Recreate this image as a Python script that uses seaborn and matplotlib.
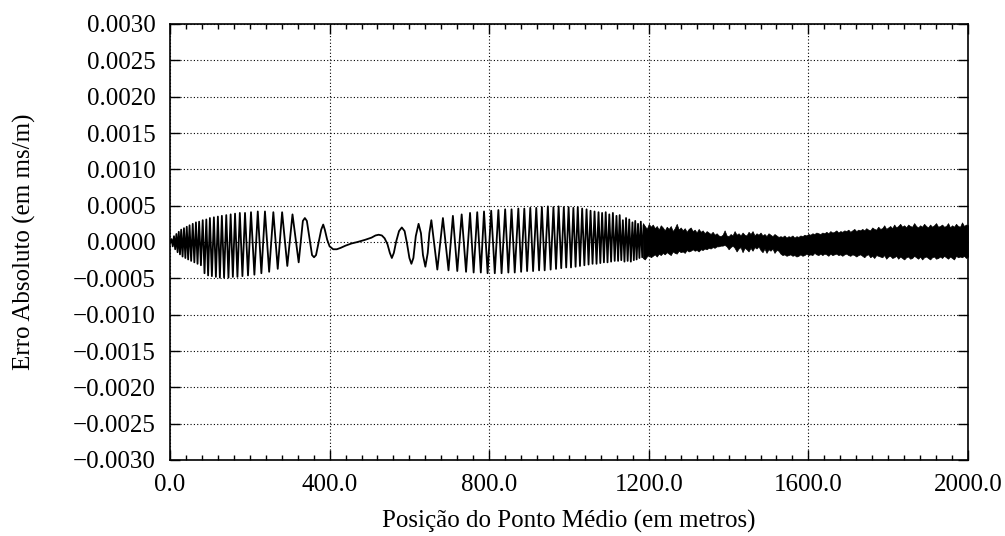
import matplotlib
matplotlib.use("Agg")
import matplotlib.pyplot as plt
import seaborn as sns
from matplotlib.ticker import MultipleLocator, FixedLocator, FuncFormatter

# Absolute error of the picked velocity along the section (ms/m)
# Oscillating part: successive extrema (and a few shoulder points) of the trace
pos_m = [
    0, 4, 7, 10, 13, 16, 19, 22, 25, 28, 31.5, 35, 38.5, 42, 45.5, 49, 53, 57,
    61, 65, 69, 73, 77.5, 82, 86.5, 91, 95.5, 100, 105, 110, 115, 120, 125,
    130, 135.5, 141, 146.5, 152, 157.5, 163, 169, 175, 181.5, 188, 195.5, 203,
    211.5, 220, 229, 238, 248.5, 259, 270, 281, 294, 307, 322.5, 333, 338,
    343, 356, 361, 366, 379, 384, 388, 394, 400, 409, 418, 428, 440, 455, 470,
    489, 505, 515, 523, 531, 538, 545, 551, 556, 561, 567, 574, 581, 588, 594,
    600, 605, 610, 616, 623, 629, 634, 640, 646, 650, 655, 670, 684, 698, 709,
    720, 731, 742, 752, 761, 770, 779, 787, 796, 805, 814, 823, 831, 840, 848,
    856, 864, 873, 880, 888, 895, 903, 910, 918, 925, 932, 939, 947, 954, 961,
    967.5, 974, 980.5, 987, 993, 999, 1005, 1011, 1016.5, 1022, 1027.5, 1033,
    1038.5, 1044, 1049, 1054, 1059, 1064, 1069, 1074, 1078.5, 1083, 1087.5,
    1092, 1096.5, 1101, 1105.5, 1110, 1114.5, 1119, 1123, 1127, 1131, 1135,
    1139, 1143, 1147, 1151, 1155, 1159, 1162.5, 1166, 1169.5, 1173, 1176.5,
    1180, 1183.5, 1187,
]
erro = [
    0.0, 4e-5, -6e-5, 8e-5, -10e-5, 11e-5, -14e-5, 14e-5, -17e-5, 17e-5,
    -20e-5, 19e-5, -22e-5, 21e-5, -24e-5, 23e-5, -26e-5, 25e-5, -28e-5, 27e-5,
    -30e-5, 28e-5, -32e-5, 30e-5, -43e-5, 31e-5, -46e-5, 33e-5, -47e-5, 34e-5,
    -48e-5, 35e-5, -49e-5, 36e-5, -49e-5, 37e-5, -49e-5, 38e-5, -48e-5, 39e-5,
    -48e-5, 40e-5, -47e-5, 40e-5, -46e-5, 41e-5, -45e-5, 42e-5, -43e-5, 42e-5,
    -41e-5, 41e-5, -37e-5, 41e-5, -33e-5, 38e-5, -28e-5, 29e-5, 33e-5, 29e-5,
    -18e-5, -21e-5, -18e-5, 17e-5, 24e-5, 17e-5, 3e-5, -6e-5, -10e-5, -10e-5,
    -8e-5, -5e-5, -2e-5, 0.0, 3e-5, 6e-5, 9e-5, 10e-5, 9e-5, 5e-5, -3e-5,
    -15e-5, -22e-5, -15e-5, 1e-5, 15e-5, 20e-5, 15e-5, -2e-5, -22e-5, -30e-5,
    -22e-5, 8e-5, 25e-5, 12e-5, -18e-5, -34e-5, -15e-5, 12e-5, 30e-5, -38e-5,
    33e-5, -39e-5, 36e-5, -40e-5, 38e-5, -41e-5, 40e-5, -42e-5, 41e-5, -42e-5,
    42e-5, -43e-5, 43e-5, -43e-5, 44e-5, -43e-5, 45e-5, -42e-5, 45e-5, -42e-5,
    46e-5, -41e-5, 46e-5, -40e-5, 47e-5, -40e-5, 47e-5, -39e-5, 48e-5, -39e-5,
    49e-5, -38e-5, 48e-5, -37e-5, 49e-5, -36e-5, 48e-5, -35e-5, 48e-5, -35e-5,
    47e-5, -34e-5, 48e-5, -33e-5, 46e-5, -32e-5, 45e-5, -31e-5, 43e-5, -30e-5,
    42e-5, -30e-5, 41e-5, -29e-5, 40e-5, -28e-5, 41e-5, -28e-5, 38e-5, -27e-5,
    40e-5, -26e-5, 36e-5, -26e-5, 37e-5, -25e-5, 30e-5, -27e-5, 33e-5, -26e-5,
    31e-5, -27e-5, 27e-5, -25e-5, 29e-5, -24e-5, 25e-5, -22e-5, 28e-5, -21e-5,
    23e-5,
]

# High-frequency part (every 5 m from 1185 m): band envelope, in 1e-5 ms/m
banda_pos = list(range(1185, 2001, 5))
banda_sup_e5 = [
    26, 22, 18, 25, 21, 24, 19, 22, 17, 23,
    20, 16, 21, 18, 22, 15, 19, 25, 17, 20,
    16, 19, 14, 18, 20, 15, 17, 13, 18, 14,
    16, 12, 15, 13, 11, 14, 10, 12, 9, 8,
    10, 16, 9, 8, 11, 9, 15, 10, 12, 9,
    13, 10, 9, 14, 11, 15, 9, 12, 10, 13,
    9, 11, 8, 12, 10, 8, 11, 9, 7, 8,
    7, 9, 6, 8, 7, 9, 6, 8, 7, 9,
    8, 10, 9, 11, 10, 12, 11, 13, 12, 11,
    13, 12, 14, 12, 15, 13, 14, 16, 13, 15,
    14, 16, 15, 17, 14, 16, 18, 15, 17, 16,
    18, 16, 19, 17, 16, 20, 18, 17, 21, 18,
    19, 23, 18, 20, 22, 19, 24, 20, 22, 25,
    21, 23, 20, 24, 22, 21, 26, 22, 20, 23,
    21, 25, 22, 20, 24, 21, 23, 26, 21, 22,
    24, 21, 22, 26, 20, 23, 21, 25, 22, 21,
    27, 22, 24, 23,
]
banda_inf_e5 = [
    -22, -24, -20, -18, -21, -19, -17, -20, -16, -18,
    -15, -17, -14, -16, -18, -13, -15, -16, -12, -14,
    -13, -15, -11, -13, -12, -10, -12, -11, -13, -10,
    -11, -9, -10, -8, -9, -7, -8, -6, -6, -5,
    -5, -4, -6, -10, -7, -5, -8, -13, -9, -7,
    -14, -8, -10, -13, -8, -12, -7, -9, -6, -11,
    -14, -9, -15, -10, -12, -9, -15, -11, -12, -16,
    -18, -17, -19, -18, -17, -19, -18, -20, -19, -17,
    -19, -18, -16, -18, -17, -18, -15, -17, -18, -16,
    -18, -16, -17, -19, -16, -18, -17, -16, -18, -17,
    -19, -17, -16, -18, -19, -17, -18, -20, -18, -17,
    -19, -21, -18, -17, -21, -19, -22, -18, -19, -20,
    -21, -18, -23, -20, -19, -22, -21, -19, -23, -20,
    -22, -24, -21, -20, -23, -22, -19, -21, -23, -20,
    -24, -21, -20, -22, -24, -21, -20, -23, -22, -20,
    -22, -19, -21, -23, -20, -22, -24, -19, -21, -20,
    -21, -19, -22, -20,
]
banda_sup = [v * 1e-5 for v in banda_sup_e5]
banda_inf = [v * 1e-5 for v in banda_inf_e5]

x_ticks = [0, 400, 800, 1200, 1600, 2000]
y_ticks = [-0.0030, -0.0025, -0.0020, -0.0015, -0.0010, -0.0005, 0.0,
           0.0005, 0.0010, 0.0015, 0.0020, 0.0025, 0.0030]
x_label = "Posição do Ponto Médio (em metros)"
y_label = "Erro Absoluto (em ms/m)"

sns.set_theme(style="ticks")
plt.rcParams["font.family"] = ["Liberation Serif", "DejaVu Serif"]
plt.rcParams["font.size"] = 18

fig = plt.figure(figsize=(10.05, 5.36), dpi=100)
ax = fig.add_axes([170 / 1005, 1 - 460 / 536, 798 / 1005, 436 / 536])

ax.fill_between(banda_pos, banda_inf, banda_sup, color="black", lw=0.5,
                edgecolor="black", zorder=3)
sns.lineplot(x=pos_m, y=erro, color="black", lw=1.3, estimator=None,
             sort=False, ax=ax, zorder=4)

ax.set_xlim(0, 2000)
ax.set_ylim(-0.003, 0.003)

ax.xaxis.set_major_locator(FixedLocator(x_ticks))
ax.xaxis.set_minor_locator(MultipleLocator(40))
ax.yaxis.set_major_locator(FixedLocator(y_ticks))
ax.xaxis.set_major_formatter(FuncFormatter(lambda v, p: f"{v:.1f}"))
ax.yaxis.set_major_formatter(
    FuncFormatter(lambda v, p: f"{round(v, 6):.4f}".replace("-", "\u2212")
                  if abs(v) > 1e-9 else "0.0000"))

ax.tick_params(which="both", direction="in", top=True, right=True,
               colors="black", labelsize=18)
ax.tick_params(which="major", length=7, width=1.0, pad=10)
ax.tick_params(which="minor", length=3.5, width=1.0)

ax.grid(True, which="major", color="black", linestyle=(0, (1, 2)),
        linewidth=0.8)
ax.set_axisbelow(True)
for s in ax.spines.values():
    s.set_color("black")
    s.set_linewidth(1.2)

ax.set_xlabel(x_label, fontsize=18, color="black")
ax.set_ylabel(y_label, fontsize=18, color="black")
ax.xaxis.set_label_coords(0.5, -0.115)
ax.yaxis.set_label_coords(-0.168, 0.5)

fig.savefig("out.png", dpi=100, facecolor="white")
